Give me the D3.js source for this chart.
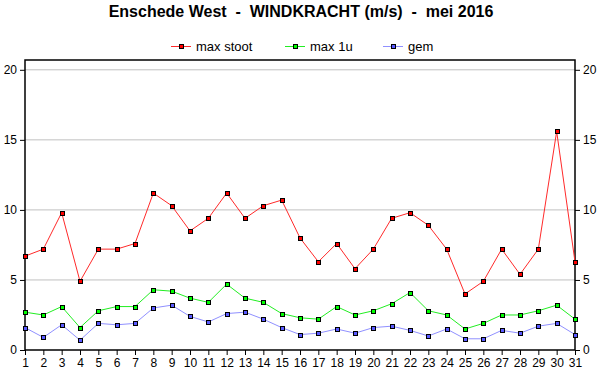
<!DOCTYPE html>
<html>
<head>
<meta charset="utf-8">
<script src="https://cdn.jsdelivr.net/npm/d3@7"></script>
<style>
  body { margin: 0; background: #fff; }
  text { font-family: "Liberation Sans", Arial, sans-serif; }
</style>
</head>
<body>
<div id="chart"></div>
<script>
// data
const days = d3.range(1, 32);
const maxStoot = [6.7, 7.2, 9.8, 4.9, 7.2, 7.2, 7.6, 11.2, 10.3, 8.5, 9.4, 11.2, 9.4, 10.3, 10.7,
    8.0, 6.3, 7.6, 5.8, 7.2, 9.4, 9.8, 8.9, 7.2, 4.0, 4.9, 7.2, 5.4, 7.2, 15.6, 6.3];
const max1u = [2.7, 2.5, 3.1, 1.6, 2.8, 3.1, 3.1, 4.3, 4.2, 3.7, 3.4, 4.7, 3.7, 3.4, 2.6,
    2.3, 2.2, 3.1, 2.5, 2.8, 3.3, 4.1, 2.8, 2.5, 1.5, 1.9, 2.5, 2.5, 2.8, 3.2, 2.2];
const gem = [1.6, 0.9, 1.8, 0.7, 1.9, 1.8, 1.9, 3.0, 3.2, 2.4, 2.0, 2.6, 2.7, 2.2, 1.6,
    1.1, 1.2, 1.5, 1.2, 1.6, 1.7, 1.4, 1.0, 1.5, 0.8, 0.8, 1.4, 1.2, 1.7, 1.9, 1.1];
const yTicks = [0, 5, 10, 15, 20];
const seriesNames = ['max stoot', 'max 1u', 'gem'];
const seriesColors = ['#ff2a2a', '#22ee22', '#9090ff'];
const markerColors = ['#ff0000', '#00ff00', '#5a5aff'];

const width = 600, height = 390;
const margin = {left: 25, right: 25, top: 60, bottom: 40};

const svg = d3.select('#chart')
    .append('svg')
    .attr('width', width)
    .attr('height', height);

const x = d3.scaleLinear()
    .domain([1, 31])
    .range([margin.left, width - margin.right]);

const y = d3.scaleLinear()
    .domain([0, 20.7])
    .range([height - margin.bottom, margin.top]);

// title
svg.append('text')
    .attr('x', 301)
    .attr('y', 17)
    .attr('text-anchor', 'middle')
    .attr('font-size', 16)
    .attr('font-weight', 'bold')
    .style('white-space', 'pre')
    .text('Enschede West  -  WINDKRACHT (m/s)  -  mei 2016');

// gridlines
svg.append('g')
    .selectAll('line')
    .data(yTicks.filter(d => d > 0))
    .join('line')
    .attr('x1', x(1))
    .attr('x2', x(31))
    .attr('y1', d => y(d))
    .attr('y2', d => y(d))
    .attr('stroke', '#c0c0c0')
    .attr('stroke-width', 1);

// axes
const axisFont = g => {
    g.selectAll('text').attr('font-size', 12).attr('fill', '#000')
        .attr('font-family', '"Liberation Sans", Arial, sans-serif');
    g.selectAll('line').attr('stroke', '#000');
    g.select('.domain').remove();
};

svg.append('g')
    .attr('transform', `translate(${margin.left},0)`)
    .call(d3.axisLeft(y).tickValues(yTicks).tickSize(5).tickPadding(3))
    .call(axisFont);

svg.append('g')
    .attr('transform', `translate(${width - margin.right},0)`)
    .call(d3.axisRight(y).tickValues(yTicks).tickSize(5).tickPadding(3))
    .call(axisFont);

svg.append('g')
    .attr('transform', `translate(0,${height - margin.bottom})`)
    .call(d3.axisBottom(x).tickValues(days).tickFormat(d3.format('d')).tickSize(5).tickPadding(3))
    .call(axisFont);

// frame
svg.append('rect')
    .attr('x', margin.left)
    .attr('y', margin.top)
    .attr('width', width - margin.left - margin.right)
    .attr('height', height - margin.top - margin.bottom)
    .attr('fill', 'none')
    .attr('stroke', '#000')
    .attr('stroke-width', 1.5);

// series
const allSeries = [maxStoot, max1u, gem];
const line = d3.line()
    .x((d, i) => x(days[i]))
    .y(d => y(d));

allSeries.forEach((vals, s) => {
    const g = svg.append('g');
    g.append('path')
        .datum(vals)
        .attr('d', line)
        .attr('fill', 'none')
        .attr('stroke', seriesColors[s])
        .attr('stroke-width', 1);
    // pixel-aligned square markers: 1px black outline, coloured core
    g.selectAll('rect')
        .data(vals)
        .join('rect')
        .attr('x', (d, i) => Math.round(x(days[i])) - 1.5)
        .attr('y', d => Math.round(y(d)) - 1.5)
        .attr('width', 4)
        .attr('height', 4)
        .attr('fill', markerColors[s])
        .attr('stroke', '#000')
        .attr('stroke-width', 1);
});

// legend
const legendX = [171, 285, 383];
const legend = svg.append('g');
seriesNames.forEach((name, s) => {
    const lg = legend.append('g').attr('transform', `translate(${legendX[s]},46)`);
    lg.append('line')
        .attr('x1', 0).attr('x2', 20)
        .attr('y1', 0.5).attr('y2', 0.5)
        .attr('stroke', seriesColors[s])
        .attr('stroke-width', 1);
    lg.append('rect')
        .attr('x', 8.5).attr('y', -1.5).attr('width', 4).attr('height', 4)
        .attr('fill', markerColors[s])
        .attr('stroke', '#000');
    lg.append('text')
        .attr('x', 25)
        .attr('y', 5)
        .attr('font-size', 13)
        .text(name);
});
</script>
</body>
</html>
